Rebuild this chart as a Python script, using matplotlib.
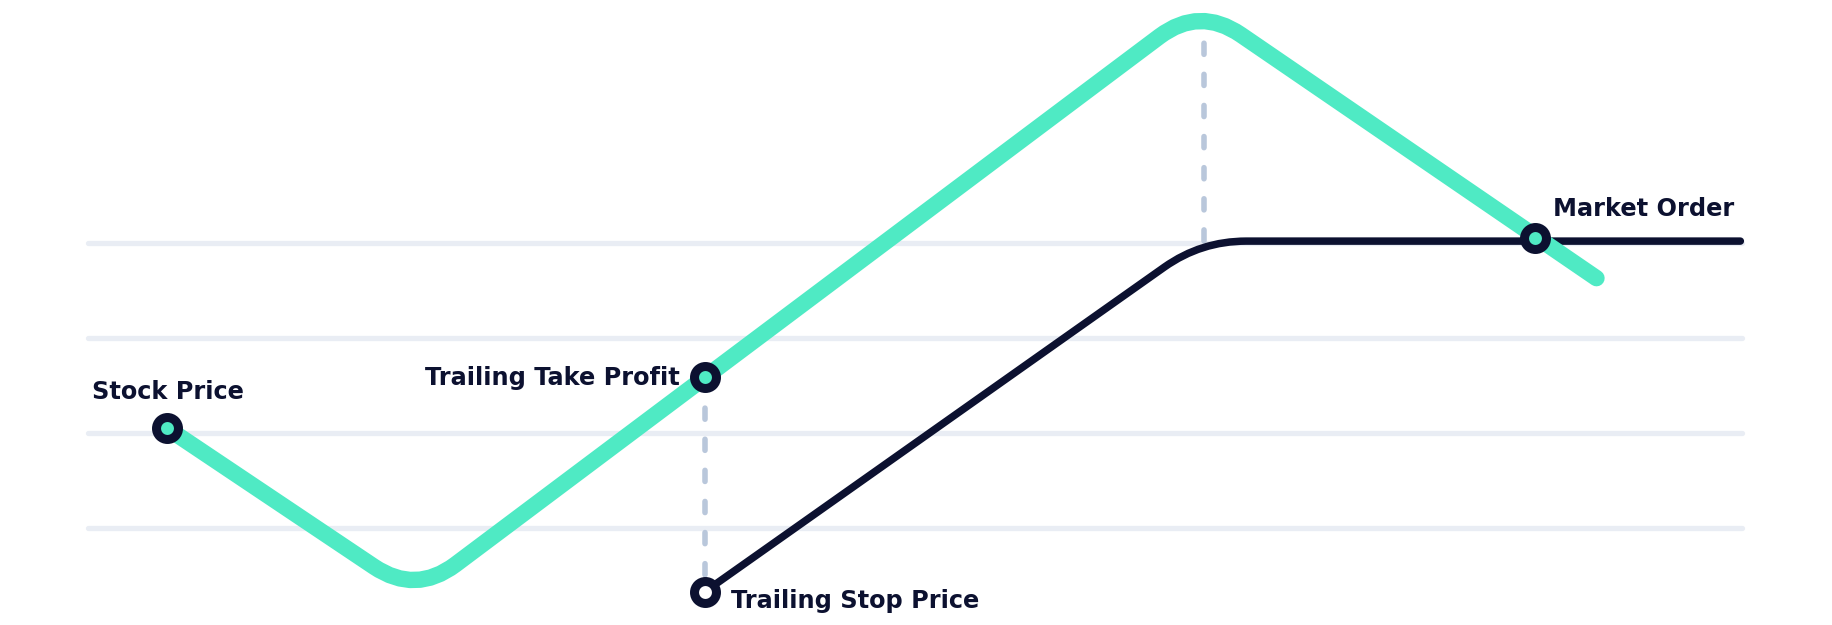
import numpy as np
import matplotlib.pyplot as plt
from matplotlib.path import Path
from matplotlib.patches import PathPatch

# chart values (x = time steps, y = price levels)
grid_levels = [1, 2, 3, 4]
price_t = [0.48, 1.98, 6.72, 9.12]
price_p = [2.05, 0.30, 6.49, 3.63]
stop_t = [3.73, 6.73, 9.99]
stop_p = [0.33, 4.02, 4.02]
take_profit = (3.73, 2.59)
market_order = (8.75, 4.05)
peak_t = 6.75
peak_p = 6.35
labels = ["Stock Price", "Trailing Take Profit", "Trailing Stop Price", "Market Order"]

GREEN = "#4feac4"
NAVY = "#0c1130"
GRID = "#e9edf4"
DASH = "#b9c7db"

plt.rcParams['font.family'] = ['DejaVu Sans']


#build a polyline path with rounded corners (radius in pixels)
def rounded_path(ax, xs, ys, radius):
  pts = ax.transData.transform(np.column_stack([xs, ys]))
  verts = [pts[0]]
  codes = [Path.MOVETO]
  for i in range(1, len(pts) - 1):
    v = pts[i]
    a = pts[i - 1] - v
    b = pts[i + 1] - v
    p1 = v + radius * a / np.linalg.norm(a)
    p2 = v + radius * b / np.linalg.norm(b)
    verts += [p1, v, p2]
    codes += [Path.LINETO, Path.CURVE3, Path.CURVE3]
  verts.append(pts[-1])
  codes.append(Path.LINETO)
  data_verts = ax.transData.inverted().transform(np.array(verts))
  return Path(data_verts, codes)


fig = plt.figure(figsize=(18.33, 6.25), dpi=100)
ax = fig.add_axes([0, 0, 1, 1])
ax.set_xlim(-0.532, 10.55)
ax.set_ylim(-0.021, 6.558)
ax.axis("off")

#horizontal guide lines
ax.hlines(grid_levels, 0, 10, color=GRID, linewidth=3.8, capstyle="round", zorder=1)

#dashed helper lines
ax.plot([take_profit[0], stop_t[0]], [take_profit[1], stop_p[0]], color=DASH, linewidth=4,
        linestyle=(0, (2, 3.6)), dash_capstyle="round", zorder=2)
ax.plot([peak_t, peak_t], [stop_p[1], peak_p], color=DASH, linewidth=4,
        linestyle=(0, (2, 3.6)), dash_capstyle="round", zorder=2)

#trailing stop line
stop_path = rounded_path(ax, stop_t, stop_p, 45)
ax.add_patch(PathPatch(stop_path, fill=False, edgecolor=NAVY, linewidth=5.4,
                       capstyle="round", joinstyle="round", zorder=3))

#stock price line
price_path = rounded_path(ax, price_t, price_p, 50)
ax.add_patch(PathPatch(price_path, fill=False, edgecolor=GREEN, linewidth=11.8,
                       capstyle="round", joinstyle="round", zorder=4))

#markers
mk = dict(marker="o", markersize=15.8, markeredgewidth=6.5, markeredgecolor=NAVY, zorder=6)
ax.plot(price_t[0], price_p[0], markerfacecolor=GREEN, **mk)
ax.plot(take_profit[0], take_profit[1], markerfacecolor=GREEN, **mk)
ax.plot(stop_t[0], stop_p[0], markerfacecolor="white", **mk)
ax.plot(market_order[0], market_order[1], markerfacecolor=GREEN, **mk)

#labels
txt = dict(textcoords="offset points", fontsize=17.3, fontweight="bold", color=NAVY,
           va="baseline", zorder=7)
ax.annotate(labels[0], (price_t[0], price_p[0]), xytext=(-54, 21), ha="left", **txt)
ax.annotate(labels[1], take_profit, xytext=(-18, -6), ha="right", **txt)
ax.annotate(labels[2], (stop_t[0], stop_p[0]), xytext=(19, -12), ha="left", **txt)
ax.annotate(labels[3], market_order, xytext=(13, 16), ha="left", **txt)

fig.savefig("out.png", dpi=100, facecolor="white")
